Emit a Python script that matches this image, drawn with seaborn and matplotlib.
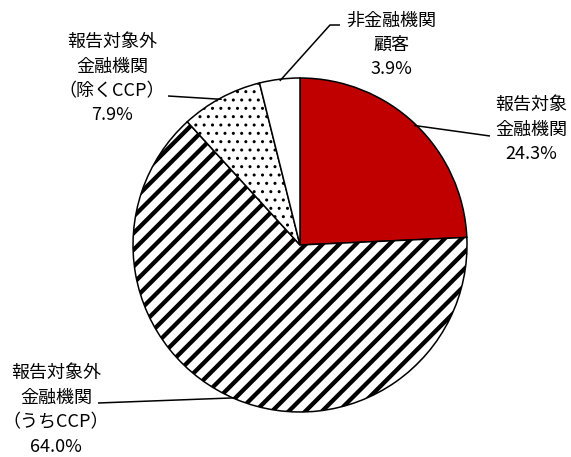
import matplotlib
matplotlib.use("Agg")
import matplotlib.pyplot as plt
import numpy as np
import seaborn as sns

# Share of counterparties (%), clockwise from 12 o'clock
categories = [
    "報告対象\n金融機関",
    "報告対象外\n金融機関\n（うちCCP）",
    "報告対象外\n金融機関\n（除くCCP）",
    "非金融機関\n顧客",
]
shares = [24.3, 64.0, 7.9, 3.9]

fill_colors = ["#C00000", "white", "white", "white"]
hatches = [None, "//", "..", None]

sns.set_theme(style="white")
plt.rcParams["font.family"] = ["Noto Sans CJK JP", "DejaVu Sans"]

W, H = 571, 457
CX, CY, R = 300, 245, 167  # pie centre and radius in pixels


def to_data(px, py):
    return (px - CX) / R, (CY - py) / R


fig = plt.figure(figsize=(W / 100, H / 100), dpi=100)
ax = fig.add_axes([0, 0, 1, 1])

wedges, _ = ax.pie(
    shares,
    colors=fill_colors,
    startangle=90,
    counterclock=False,
    radius=1.0,
    wedgeprops=dict(edgecolor="black", linewidth=1.1),
)
for w, h in zip(wedges, hatches):
    if h:
        w.set_hatch(h)
wedges[1].set_hatch_linewidth(3.1)
wedges[2].set_hatch_linewidth(1.0)

ax.set_xlim(-CX / R, (W - CX) / R)
ax.set_ylim(-(H - CY) / R, CY / R)
ax.set_aspect("equal")
ax.axis("off")

# label layout: text centre x, first line y, leader path after the wedge point (pixels)
layout = [
    dict(x=531, y0=105, path=[(490, 136)]),
    dict(x=56, y0=373, path=[(98, 403)]),
    dict(x=112, y0=42, path=[(168, 96)]),
    dict(x=391, y0=20.5, path=[(330, 25), (340, 25)]),
]
step = 24.5

for w, cat, val, lay in zip(wedges, categories, shares, layout):
    mid = np.deg2rad((w.theta1 + w.theta2) / 2)
    r_edge = 0.99
    pts = [(r_edge * np.cos(mid), r_edge * np.sin(mid))] + [to_data(*p) for p in lay["path"]]
    xs, ys = zip(*pts)
    ax.plot(xs, ys, color="black", lw=1.1, solid_capstyle="butt")

    lines = cat.split("\n") + [f"{val:.1f}%"]
    for i, line in enumerate(lines):
        tx, ty = to_data(lay["x"], lay["y0"] + i * step)
        ax.text(tx, ty, line, ha="center", va="center", fontsize=13, color="black")

fig.savefig("out.png", dpi=100, facecolor="white")
